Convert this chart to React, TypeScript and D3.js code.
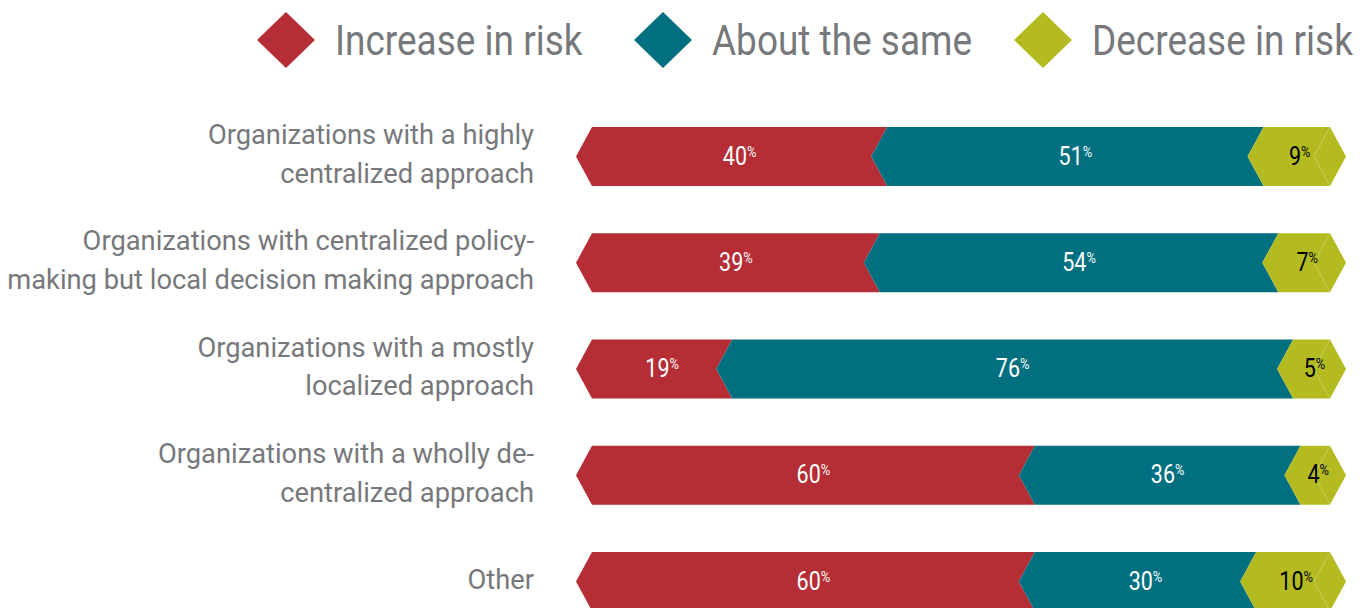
import React, { useEffect, useRef } from 'react';
import * as d3 from 'd3';

const categories = [
  ['Organizations with a highly', 'centralized approach'],
  ['Organizations with centralized policy-', 'making but local decision making approach'],
  ['Organizations with a mostly', 'localized  approach'],
  ['Organizations with a wholly de-', 'centralized approach'],
  ['Other'],
];
const increaseInRisk = [40, 39, 19, 60, 60];
const aboutTheSame = [51, 54, 76, 36, 30];
const decreaseInRisk = [9, 7, 5, 4, 10];
const seriesNames = ['Increase in risk', 'About the same', 'Decrease in risk'];
const seriesColors = ['#b52d35', '#007080', '#b3bb20'];
const labelColors = ['#ffffff', '#ffffff', '#000000'];

const W = 1368;
const H = 608;
const FONT = 'Roboto, sans-serif';
const GRAY = '#77787b';
// the original uses a condensed face; squeeze Roboto horizontally
const SQUEEZE = 0.86;
const CAT_SQUEEZE = 0.975;

export default function App() {
  const svgRef = useRef<SVGSVGElement>(null);

  useEffect(() => {
    const svg = d3.select(svgRef.current);
    svg.selectAll('*').remove();

    const rows = categories.map((c, i) => ({
      idx: i,
      inc: increaseInRisk[i],
      same: aboutTheSame[i],
      dec: decreaseInRisk[i],
    }));
    const keys = ['inc', 'same', 'dec'];
    const stacked = d3.stack<any>().keys(keys)(rows);

    const x = d3.scaleLinear().domain([0, 100]).range([592, 1330]);
    const y = d3
      .scalePoint<number>()
      .domain(rows.map((r) => r.idx))
      .range([156.5, 581.5]);
    const barH = 59;
    const tip = 16;
    const lineH = 39;

    /* legend */
    const legendX = [286, 663, 1043];
    const legend = svg
      .append('g')
      .selectAll('g')
      .data(seriesNames)
      .enter()
      .append('g')
      .attr('transform', (d, i) => `translate(${legendX[i]}, 40)`);
    legend
      .append('path')
      .attr('d', 'M-29,0 L0,-28 L29,0 L0,28 Z')
      .attr('fill', (d, i) => seriesColors[i]);
    legend
      .append('text')
      .attr('transform', `translate(49, 15) scale(${SQUEEZE},1)`)
      .attr('font-family', FONT)
      .attr('font-size', 43)
      .attr('fill', GRAY)
      .text((d) => d);

    /* category labels */
    const cat = svg
      .append('g')
      .selectAll('text')
      .data(categories)
      .enter()
      .append('text')
      .attr('text-anchor', 'end')
      .attr('font-family', FONT)
      .attr('font-size', 28)
      .attr('fill', GRAY)
      .attr('transform', (d, i) => {
        const first = y(i)! + 7 - ((d.length - 1) * lineH) / 2;
        return `translate(534, ${first}) scale(${CAT_SQUEEZE},1)`;
      });
    cat
      .selectAll('tspan')
      .data((d) => d)
      .enter()
      .append('tspan')
      .attr('x', 0)
      .attr('dy', (d, i) => (i === 0 ? 0 : lineH))
      .text((d) => d);

    /* bars */
    const segPath = (x0: number, x1: number, cy: number, last: boolean) => {
      const t = cy - barH / 2;
      const b = cy + barH / 2;
      const rx = last ? x1 + tip : x1 - tip;
      return `M${x0},${t} L${x1},${t} L${rx},${cy} L${x1},${b} L${x0},${b} L${x0 - tip},${cy} Z`;
    };

    stacked.forEach((layer, li) => {
      const g = svg.append('g');
      const last = li === stacked.length - 1;
      layer.forEach((seg: any) => {
        const row = seg.data;
        const cy = y(row.idx)!;
        const x0 = x(seg[0]);
        const x1 = x(seg[1]);
        g.append('path')
          .attr('d', segPath(x0, x1, cy, last))
          .attr('fill', seriesColors[li]);
        if (last) {
          g.append('path')
            .attr('d', `M${x1},${cy - barH / 2} L${x1 - tip},${cy} L${x1},${cy + barH / 2}`)
            .attr('fill', 'none')
            .attr('stroke', 'rgba(255,255,255,0.35)')
            .attr('stroke-width', 0.8);
        }
        const val = seg[1] - seg[0];
        const txt = g
          .append('text')
          .attr('transform', `translate(${(x0 + x1) / 2 + (last ? 3 : 0)}, ${cy + 8}) scale(${SQUEEZE},1)`)
          .attr('text-anchor', 'middle')
          .attr('font-family', FONT)
          .attr('fill', labelColors[li]);
        txt.append('tspan').attr('font-size', 25).text(val);
        txt
          .append('tspan')
          .attr('font-size', 15)
          .attr('dy', -8)
          .text('%');
      });
    });
  }, []);

  return (
    <div style={{ position: 'absolute', left: 0, top: 0 }}>
      <svg ref={svgRef} width={W} height={H} style={{ display: 'block', background: '#fff' }} />
    </div>
  );
}
